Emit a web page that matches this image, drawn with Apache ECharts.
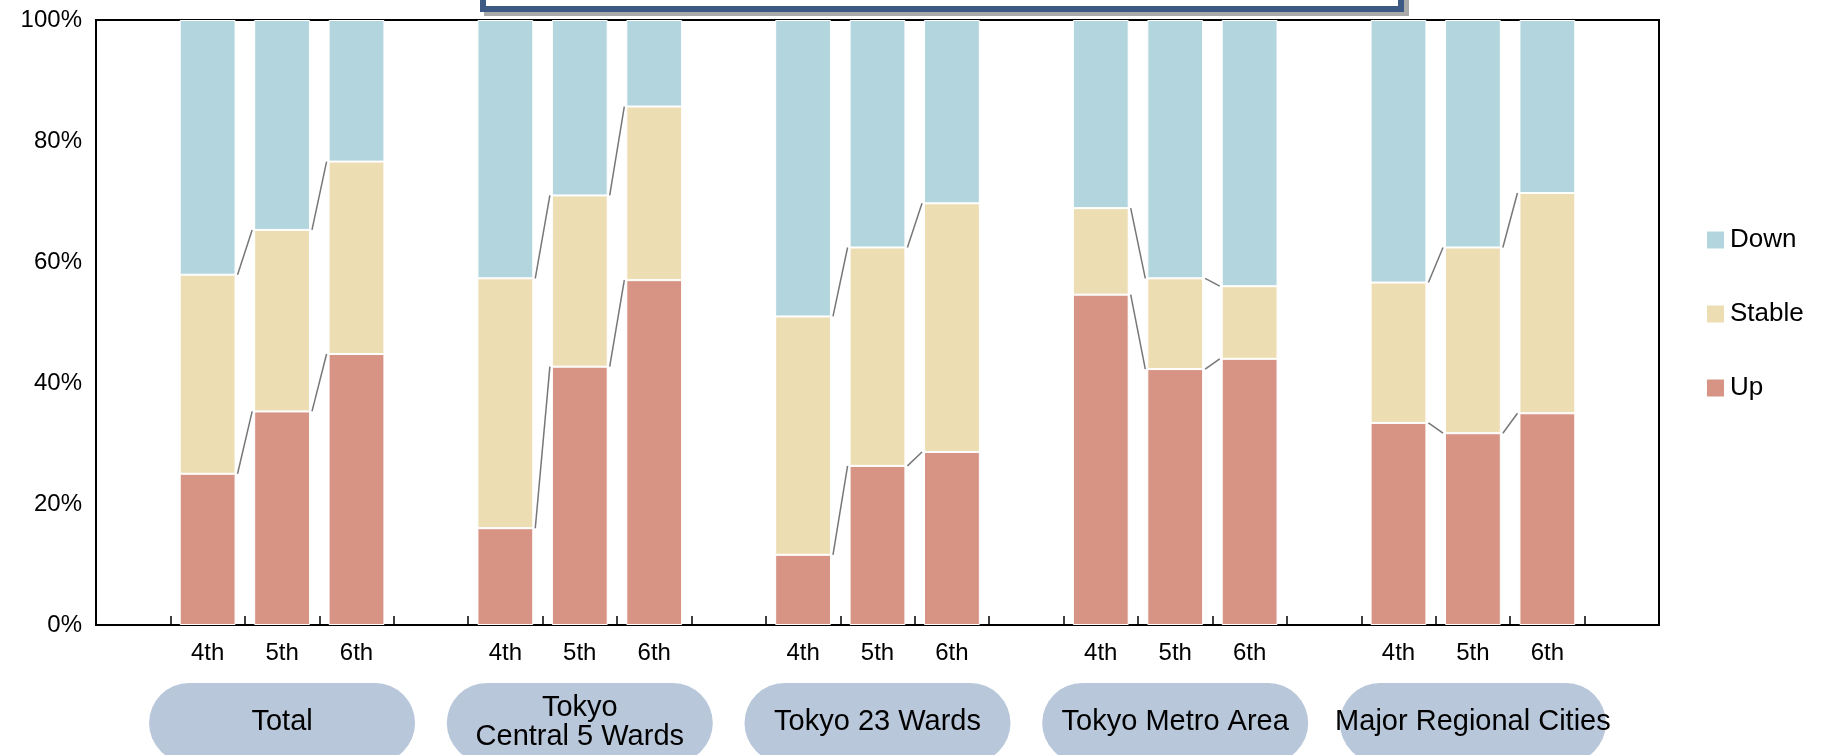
<!DOCTYPE html>
<html>
<head>
<meta charset="utf-8">
<script src="https://cdn.jsdelivr.net/npm/echarts@6/dist/echarts.min.js"></script>
<style>html,body{margin:0;padding:0;background:#fff}#c{width:1832px;height:755px}</style>
</head>
<body>
<div id="c"></div>
<script>
var groups = ['Total', 'Tokyo\nCentral 5 Wards', 'Tokyo 23 Wards', 'Tokyo Metro Area', 'Major Regional Cities'];
var rounds = ['4th', '5th', '6th'];
// per bar, in group order: share answering "Up", and cumulative Up+Stable
var upVals = [25.0, 35.3, 44.8, 16.0, 42.7, 57.0, 11.6, 26.3, 28.6, 54.6, 42.3, 44.0, 33.4, 31.7, 35.0];
var upStableVals = [57.9, 65.3, 76.6, 57.3, 71.0, 85.7, 51.0, 62.4, 69.7, 68.9, 57.3, 56.0, 56.6, 62.4, 71.4];

// slots: one empty slot at start, then 3 bars + 1 empty per group
var cats = [''];
var upData = [null], stableData = [null], downData = [null];
var barSlots = [];
groups.forEach(function (g, gi) {
  rounds.forEach(function (r, ri) {
    var k = gi * 3 + ri;
    barSlots.push(cats.length);
    cats.push(r);
    upData.push(upVals[k]);
    stableData.push(+(upStableVals[k] - upVals[k]).toFixed(1));
    downData.push(+(100 - upStableVals[k]).toFixed(1));
  });
  cats.push('');
  upData.push(null); stableData.push(null); downData.push(null);
});

// connector lines between adjacent bars in a group
var links = [];
for (var gi = 0; gi < groups.length; gi++) {
  for (var ri = 0; ri < 2; ri++) {
    var k = gi * 3 + ri;
    links.push([barSlots[k], upVals[k], upVals[k + 1]]);
    links.push([barSlots[k], upStableVals[k], upStableVals[k + 1]]);
  }
}

var chart = echarts.init(document.getElementById('c'));
var font = 'Liberation Sans, Arial, sans-serif';
var barStyle = { borderColor: '#fff', borderWidth: 1 };

chart.setOption({
  animation: false,
  textStyle: { fontFamily: font },
  grid: { left: 96, right: 173, top: 20, bottom: 130, show: true, borderColor: '#000', borderWidth: 2 },
  legend: {
    orient: 'vertical', left: 1700, top: 222, itemGap: 48,
    itemWidth: 19, itemHeight: 19, icon: 'rect',
    textStyle: { fontSize: 26, color: '#000', fontFamily: font },
    data: ['Down', 'Stable', 'Up']
  },
  xAxis: {
    type: 'category', data: cats,
    axisLine: { lineStyle: { color: '#000', width: 2 } },
    axisTick: { show: true, inside: true, length: 9, interval: 0, lineStyle: { color: '#000', width: 1.5 } },
    axisLabel: { fontSize: 24, color: '#000', margin: 16, interval: 0 }
  },
  yAxis: {
    type: 'value', min: 0, max: 100, interval: 20,
    axisLine: { show: true, lineStyle: { color: '#000', width: 2 } },
    axisTick: { show: false },
    splitLine: { show: false },
    axisLabel: { fontSize: 24, color: '#000', formatter: '{value}%', margin: 14 }
  },
  series: [
    { name: 'Up', type: 'bar', stack: 's', data: upData, barCategoryGap: '25%', itemStyle: Object.assign({ color: '#D79484' }, barStyle) },
    { name: 'Stable', type: 'bar', stack: 's', data: stableData, itemStyle: Object.assign({ color: '#EDDDB3' }, barStyle) },
    { name: 'Down', type: 'bar', stack: 's', data: downData, itemStyle: Object.assign({ color: '#B3D6DE' }, barStyle) },
    {
      type: 'custom', data: links, z: 5, silent: true,
      renderItem: function (params, api) {
        var bw = api.size([1, 0])[0] * 0.75;
        var a = api.coord([api.value(0), api.value(1)]);
        var b = api.coord([api.value(0) + 1, api.value(2)]);
        return {
          type: 'line',
          shape: { x1: a[0] + bw / 2 + 2, y1: a[1], x2: b[0] - bw / 2 - 2, y2: b[1] },
          style: { stroke: '#777', lineWidth: 1.5 }
        };
      }
    }
  ]
});

// title box remnant at the top and group pills under the axis
var gfx = [
  { type: 'rect', shape: { x: 484, y: 0, width: 925, height: 16 }, style: { fill: '#aaa' } },
  { type: 'rect', shape: { x: 480, y: 0, width: 924, height: 12 }, style: { fill: '#3D5A85' } },
  { type: 'rect', shape: { x: 486, y: 0, width: 912, height: 6 }, style: { fill: '#fff' } }
];
groups.forEach(function (g, gi) {
  var cx = chart.convertToPixel({ xAxisIndex: 0 }, barSlots[gi * 3 + 1]);
  gfx.push({
    type: 'rect', shape: { x: cx - 133, y: 683, width: 266, height: 80, r: 40 },
    style: { fill: '#B9C7DA' }
  });
  gfx.push({
    type: 'text', x: cx, y: 722,
    style: { text: g, fontSize: 29, fontFamily: font, fill: '#000', align: 'center', verticalAlign: 'middle', lineHeight: 29 }
  });
});
chart.setOption({ graphic: gfx });
</script>
</body>
</html>
